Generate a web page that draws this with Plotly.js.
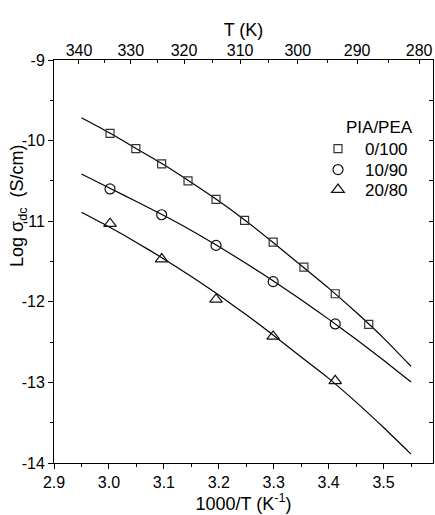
<!DOCTYPE html>
<html>
<head>
<meta charset="utf-8">
<script src="https://cdn.plot.ly/plotly-3.0.1.min.js"></script>
<style>body{margin:0;padding:0;background:#fff}#chart{width:435px;height:515px}</style>
</head>
<body>
<div id="chart"></div>
<script>
// Measured data (x = 1000/T in K^-1, y = log sigma_dc in S/cm)
var sqX = [3.002, 3.049, 3.096, 3.144, 3.195, 3.247, 3.299, 3.355, 3.412, 3.473];
var sqY = [-9.91, -10.10, -10.29, -10.50, -10.73, -10.99, -11.26, -11.57, -11.90, -12.28];
var ciX = [3.002, 3.096, 3.195, 3.299, 3.412];
var ciY = [-10.60, -10.92, -11.30, -11.75, -12.275];
var trX = [3.002, 3.096, 3.195, 3.299, 3.412];
var trY = [-11.03, -11.47, -11.97, -12.43, -12.98];

// Fitted curves
var fitX = [2.95, 3.00, 3.05, 3.10, 3.15, 3.20, 3.25, 3.30, 3.35, 3.40, 3.45, 3.50, 3.55];
var fitA = [-9.716, -9.90, -10.10, -10.30, -10.52, -10.75, -11.00, -11.27, -11.55, -11.83, -12.13, -12.45, -12.80];
var fitB = [-10.415, -10.585, -10.755, -10.93, -11.115, -11.315, -11.525, -11.745, -11.975, -12.215, -12.465, -12.725, -12.995];
var fitC = [-10.89, -11.07, -11.263, -11.468, -11.686, -11.917, -12.161, -12.417, -12.686, -12.95, -13.245, -13.56, -13.89];

var legendTitle = 'PIA/PEA';
var seriesNames = ['0/100', '10/90', '20/80'];
var topTickLabels = ['340', '330', '320', '310', '300', '290', '280'];
var topTickPos = [2.9455, 3.0397, 3.1368, 3.2388, 3.3439, 3.4519, 3.5648];
var yTickVals = [-14, -13, -12, -11, -10, -9];
var yTickText = ['-14', '-13', '-12', '-11', '-10', '-9'];

var topMinor = [];
for (var i = 0; i < topTickPos.length - 1; i++) topMinor.push((topTickPos[i] + topTickPos[i + 1]) / 2);

var FONT = 'Liberation Sans, Arial, sans-serif';

function line(x, y) {
  return {x: x, y: y, mode: 'lines', line: {color: '#000', width: 1.2, shape: 'spline', smoothing: 0.6},
          showlegend: false, hoverinfo: 'skip'};
}

var traces = [
  line(fitX, fitA), line(fitX, fitB), line(fitX, fitC),
  {x: sqX, y: sqY, mode: 'markers', name: seriesNames[0], legend: 'legend',
   marker: {symbol: 'square-open', size: 8, color: '#333', line: {width: 1.2}}},
  {x: ciX, y: ciY, mode: 'markers', name: seriesNames[1], legend: 'legend2',
   marker: {symbol: 'circle-open', size: 10, color: '#111', line: {width: 1.2}}},
  {x: trX, y: trY, mode: 'markers', name: seriesNames[2], legend: 'legend3',
   marker: {symbol: 'triangle-up-open', size: 11, color: '#111', line: {width: 1.2}}},
  {x: [], y: [], xaxis: 'x2', yaxis: 'y2', showlegend: false, hoverinfo: 'skip', mode: 'markers'}
];

function leg(ypx) {
  return {
    x: (311 - 54) / 379, y: (463 - ypx) / 403, xanchor: 'left', yanchor: 'middle',
    bgcolor: 'rgba(0,0,0,0)', borderwidth: 0, itemwidth: 44,
    font: {family: FONT, size: 17, color: '#000'}
  };
}

var layout = {
  width: 435, height: 515,
  margin: {l: 54, r: 2, t: 60, b: 52},
  paper_bgcolor: '#fff', plot_bgcolor: '#fff',
  font: {family: FONT, size: 16, color: '#000'},
  showlegend: true,
  legend: leg(149),
  legend2: leg(170),
  legend3: leg(190),
  annotations: [
    {text: legendTitle, xref: 'paper', yref: 'paper', x: (379 - 54) / 379, y: (463 - 127) / 403,
     xanchor: 'center', yanchor: 'middle', showarrow: false, font: {family: FONT, size: 17, color: '#000'}},
    {text: 'Log σ<sub>dc</sub>  (S/cm)', xref: 'paper', yref: 'paper', x: (18 - 54) / 379, y: (463 - 206) / 403,
     xanchor: 'center', yanchor: 'middle', textangle: -90, showarrow: false,
     font: {family: FONT, size: 18, color: '#000'}}
  ],
  xaxis: {
    range: [2.9, 3.59], tick0: 2.9, dtick: 0.1, tickformat: '.1f',
    ticks: 'outside', ticklen: 5, tickwidth: 1, tickcolor: '#000',
    minor: {dtick: 0.05, tick0: 2.9, ticks: 'outside', ticklen: 3, tickcolor: '#000'},
    showline: true, linecolor: '#000', linewidth: 1, mirror: false,
    showgrid: false, zeroline: false,
    title: {text: '1000/T (K<sup>-1</sup>)', font: {family: FONT, size: 18}, standoff: 0},
    tickfont: {family: FONT, size: 16}
  },
  yaxis: {
    range: [-14, -9], tickmode: 'array', tickvals: yTickVals, ticktext: yTickText,
    ticks: 'outside', ticklen: 5, tickwidth: 1, tickcolor: '#000',
    minor: {dtick: 0.5, tick0: -14, ticks: 'outside', ticklen: 3, tickcolor: '#000'},
    showline: true, linecolor: '#000', linewidth: 1, mirror: false,
    showgrid: false, zeroline: false,
    tickfont: {family: FONT, size: 16}
  },
  xaxis2: {
    overlaying: 'x', side: 'top', range: [2.9, 3.59],
    tickmode: 'array', tickvals: topTickPos, ticktext: topTickLabels,
    ticks: 'inside', ticklen: 4, tickwidth: 1, tickcolor: '#000', ticklabelstandoff: -3,
    minor: {tickmode: 'array', tickvals: topMinor, ticks: 'inside', ticklen: 3, tickcolor: '#000'},
    showline: true, linecolor: '#000', linewidth: 1,
    showgrid: false, zeroline: false,
    title: {text: 'T (K)', font: {family: FONT, size: 18}, standoff: 0},
    tickfont: {family: FONT, size: 16}
  },
  yaxis2: {
    overlaying: 'y', side: 'right', range: [-14, -9],
    tickmode: 'array', tickvals: yTickVals, showticklabels: false,
    ticks: 'inside', ticklen: 4, tickwidth: 1, tickcolor: '#000',
    minor: {dtick: 0.5, tick0: -14, ticks: 'inside', ticklen: 4, tickcolor: '#000'},
    showline: true, linecolor: '#000', linewidth: 1,
    showgrid: false, zeroline: false
  }
};

Plotly.newPlot('chart', traces, layout, {displayModeBar: false, staticPlot: true});
</script>
</body>
</html>
